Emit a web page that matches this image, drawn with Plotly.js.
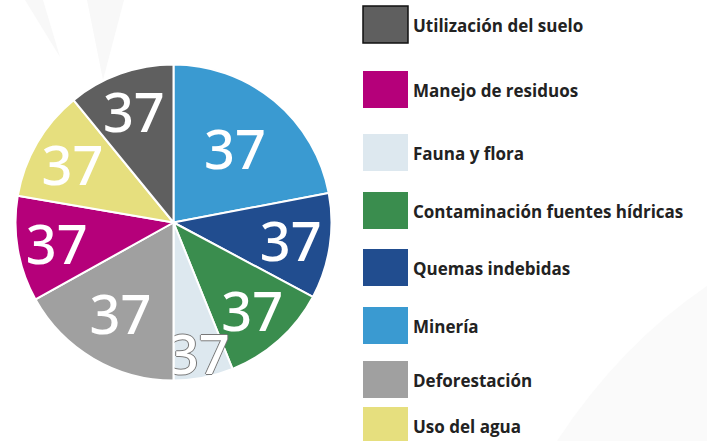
<!DOCTYPE html>
<html>
<head>
<meta charset="utf-8">
<script src="https://cdn.plot.ly/plotly-3.0.1.min.js"></script>
<style>
  html, body { margin: 0; padding: 0; background: #ffffff; }
  #chart { width: 707px; height: 441px; }
</style>
</head>
<body>
<div id="chart"></div>
<script>
// Slices, clockwise from 12 o'clock
const categories = ["Minería", "Quemas indebidas", "Contaminación fuentes hídricas", "Fauna y flora",
                    "Deforestación", "Manejo de residuos", "Uso del agua", "Utilización del suelo"];
const shares = [22.0, 10.8, 11.1, 6.1, 16.9, 10.8, 11.4, 10.9];
const sliceLabels = ["37", "37", "37", "37", "37", "37", "37", "37"];
const sliceColors = ["#3a9ad1", "#214d8f", "#3a8d4e", "#dde8ef", "#a0a0a0", "#b5007a", "#e6df7e", "#5f5f5f"];
// Legend order as shown on the right
const legendOrder = ["Utilización del suelo", "Manejo de residuos", "Fauna y flora",
                     "Contaminación fuentes hídricas", "Quemas indebidas", "Minería",
                     "Deforestación", "Uso del agua"];

const W = 707, H = 441;
const px = x => x / W;
const py = y => 1 - y / H;

const cx = 173.5, cy = 222.5, R = 158;

const trace = {
  type: "pie",
  values: shares,
  labels: categories,
  text: sliceLabels,
  textinfo: "text",
  textposition: "inside",
  insidetextorientation: "horizontal",
  sort: false,
  direction: "clockwise",
  rotation: 0,
  hoverinfo: "label+value",
  showlegend: false,
  marker: {
    colors: sliceColors,
    line: { color: "#ffffff", width: 2 }
  },
  textfont: {
    family: "Noto Sans, sans-serif",
    size: 54,
    weight: 500,
    color: "#ffffff",
    shadow: categories.map(c => c === "Fauna y flora"
      ? "1px 0 0 #777, -1px 0 0 #777, 0 1px 0 #777, 0 -1px 0 #777"
      : "none")
  },
  domain: { x: [px(cx - R), px(cx + R)], y: [py(cy + R), py(cy - R)] }
};

// Background faint shapes + legend built from legendOrder
const shapes = [
  { type: "path", xref: "paper", yref: "paper", layer: "below", line: { width: 0 }, fillcolor: "#f8f8f8",
    path: `M ${px(25)} ${py(0)} L ${px(43)} ${py(0)} L ${px(60)} ${py(57)} Z` },
  { type: "path", xref: "paper", yref: "paper", layer: "below", line: { width: 0 }, fillcolor: "#f8f8f8",
    path: `M ${px(87)} ${py(0)} L ${px(124)} ${py(0)} L ${px(103)} ${py(80)} Z` },
  { type: "path", xref: "paper", yref: "paper", layer: "below", line: { width: 0 }, fillcolor: "#fafafa",
    path: `M ${px(557)} ${py(441)} Q ${px(620)} ${py(345)} ${px(707)} ${py(286)} L ${px(707)} ${py(441)} Z` }
];
const annotations = [];
const boxTops = [6, 71, 134, 192, 249, 307, 361, 407];
const boxH = 37;
legendOrder.forEach((name, i) => {
  const idx = categories.indexOf(name);
  const top = boxTops[i];
  const border = name === "Utilización del suelo" ? { color: "#111111", width: 1.5 } : { width: 0 };
  shapes.push({
    type: "rect", xref: "paper", yref: "paper",
    x0: px(363), x1: px(408), y0: py(top + boxH), y1: py(top),
    fillcolor: sliceColors[idx], line: border
  });
  annotations.push({
    xref: "paper", yref: "paper", x: px(411), y: py(top + boxH / 2 + 1),
    xanchor: "left", yanchor: "middle", showarrow: false,
    text: name,
    font: { family: "Open Sans, sans-serif", size: 17, color: "#222222", weight: "bold" }
  });
});

const layout = {
  width: W, height: H,
  margin: { l: 0, r: 0, t: 0, b: 0 },
  paper_bgcolor: "#ffffff",
  showlegend: false,
  uniformtext: { mode: "show", minsize: 54 },
  shapes: shapes,
  annotations: annotations
};

Plotly.newPlot("chart", [trace], layout, { displayModeBar: false, staticPlot: true });
</script>
</body>
</html>
